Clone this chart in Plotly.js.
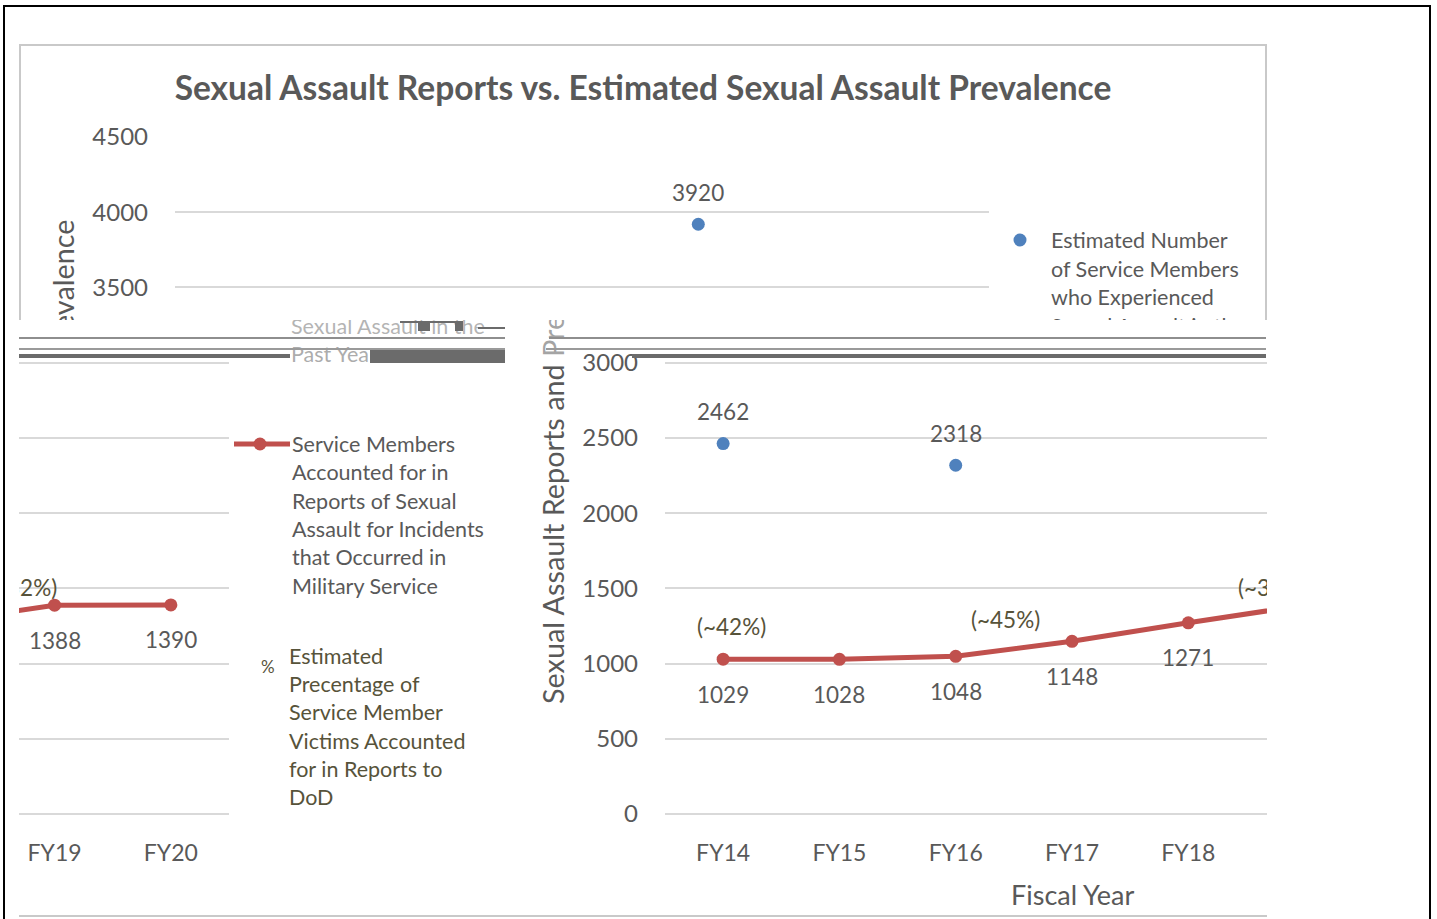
<!DOCTYPE html>
<html><head><meta charset="utf-8">
<script src="https://cdn.plot.ly/plotly-3.0.1.min.js"></script>
<style>
html,body{margin:0;padding:0;background:#fff;overflow:hidden;width:1437px;height:919px;}
.abs{position:absolute;}
.clip{position:absolute;overflow:hidden;}
.wrap{position:absolute;width:1248px;height:873px;}
.plot{position:absolute;left:0;top:0;width:1248px;height:873px;}
.box{position:absolute;left:0;top:0;width:1248px;height:873px;box-sizing:border-box;border:2px solid #c9c9c9;pointer-events:none;}
.g{position:absolute;}
</style></head><body>
<div class="abs" style="left:3px;top:5px;width:1428px;height:960px;border:2px solid #000;box-sizing:border-box"></div>

<div class="clip" style="left:0;top:0;width:1437px;height:320px">
  <div class="wrap" style="left:19px;top:44px"><div class="plot" id="c1"></div><div class="box"></div></div>
</div>
<div class="clip" style="left:538px;top:320px;width:729px;height:599px">
  <div class="wrap" style="left:-29px;top:-276px"><div class="plot" id="c2"></div><div class="box"></div></div>
</div>
<div class="clip" style="left:19px;top:320px;width:486px;height:599px">
  <div class="wrap" style="left:-760px;top:-276px"><div class="plot" id="c3"></div><div class="box"></div></div>
</div>

<!-- rendering glitch band -->
<div class="g" style="left:288px;top:318px;width:217px;height:17px;background:rgba(255,255,255,0.55)"></div>
<div class="g" style="left:288px;top:343px;width:82px;height:21px;background:rgba(255,255,255,0.5)"></div>
<div class="g" style="left:540px;top:320px;width:40px;height:42px;background:rgba(255,255,255,0.45)"></div>
<div class="g" style="left:19px;top:337px;width:486px;height:2px;background:#8e8e8e"></div>
<div class="g" style="left:549px;top:337px;width:717px;height:2px;background:#8e8e8e"></div>
<div class="g" style="left:19px;top:348px;width:486px;height:2px;background:#9a9a9a"></div>
<div class="g" style="left:546px;top:348px;width:720px;height:2px;background:#9a9a9a"></div>
<div class="g" style="left:19px;top:354px;width:271px;height:4px;background:#6b6b6b"></div>
<div class="g" style="left:370px;top:350px;width:135px;height:13px;background:#6b6b6b"></div>
<div class="g" style="left:632px;top:354px;width:634px;height:4px;background:#6b6b6b"></div>
<div class="g" style="left:400px;top:321px;width:63px;height:2px;background:#6b6b6b"></div>
<div class="g" style="left:418px;top:323px;width:12px;height:8px;background:#6b6b6b"></div>
<div class="g" style="left:455px;top:323px;width:8px;height:8px;background:#6b6b6b"></div>
<div class="g" style="left:478px;top:327px;width:27px;height:2px;background:#6b6b6b"></div>
<div class="g" style="left:505px;top:915px;width:33px;height:2px;background:#c9c9c9"></div>

<script>
// ---- data ----
const fiscalYears = ['FY14','FY15','FY16','FY17','FY18','FY19','FY20'];
const reportedValues = [1029, 1028, 1048, 1148, 1271, 1388, 1390];
const prevalenceYears = ['FY14','FY16','FY18'];
const prevalenceValues = [2462, 2318, 3920];
const pctYears = ['FY14','FY16','FY18'];
const pctLabels = ['(~42%)','(~45%)','(~32%)'];
const yTickValues = [0,500,1000,1500,2000,2500,3000,3500,4000,4500];
const chartTitle = 'Sexual Assault Reports vs. Estimated Sexual Assault Prevalence';
const yAxisTitle = 'Sexual Assault Reports and Prevalence';
const xAxisTitle = 'Fiscal Year';
const prevalenceLegend = ['Estimated Number','of Service Members','who Experienced','Sexual Assault in the','Past Year'];
const reportedLegend = ['Service Members','Accounted for in','Reports of Sexual','Assault for Incidents','that Occurred in','Military Service'];
const pctLegend = ['Estimated','Precentage of','Service Member','Victims Accounted','for in Reports to','DoD'];

// ---- styling / geometry ----
const W=1248,H=873,ML=156,MR=278,MT=93,MB=103;
const PW=W-ML-MR, PH=H-MT-MB;
const px=x=>(x-ML)/PW, py=y=>(H-MB-y)/PH;
const FONT='Lato, "Open Sans", sans-serif';
const GREY='#595959', OLIVE='#57533a', RED='#C0504D', BLUE='#4F81BD';
const pctShift = [[8,33],[50,37],[84,35]];

function buildFigure(){
  const traces = [
    {type:'scatter', mode:'lines+markers', x:fiscalYears, y:reportedValues,
     line:{color:RED, width:5}, marker:{color:RED, size:13}, showlegend:false, hoverinfo:'skip'},
    {type:'scatter', mode:'markers', x:prevalenceYears, y:prevalenceValues,
     marker:{color:BLUE, size:13}, showlegend:false, hoverinfo:'skip'}
  ];
  const ann = [];
  reportedValues.forEach((v,i)=>ann.push({x:fiscalYears[i], y:v, text:String(v), showarrow:false,
    yshift:-35, font:{family:FONT,size:22.5,color:GREY}}));
  prevalenceValues.forEach((v,i)=>ann.push({x:prevalenceYears[i], y:v, text:String(v), showarrow:false,
    yshift:32, font:{family:FONT,size:22.5,color:GREY}}));
  pctLabels.forEach((t,i)=>{
    const idx = fiscalYears.indexOf(pctYears[i]);
    ann.push({x:pctYears[i], y:reportedValues[idx], text:t, showarrow:false,
      xshift:pctShift[i][0], yshift:pctShift[i][1], font:{family:FONT,size:22.5,color:OLIVE}});
  });
  // axis titles
  ann.push({xref:'paper',yref:'paper',x:px(44),y:py(418),text:yAxisTitle,textangle:-90,showarrow:false,
    xanchor:'center',yanchor:'middle',font:{family:FONT,size:28.8,color:GREY}});
  ann.push({xref:'paper',yref:'paper',x:px(563),y:py(850),text:xAxisTitle,showarrow:false,
    xanchor:'center',yanchor:'middle',font:{family:FONT,size:27,color:GREY}});
  // legend text
  const legLine=(lines,x0,y0,dy,color)=>lines.forEach((t,i)=>ann.push({xref:'paper',yref:'paper',
    x:px(x0),y:py(y0+i*dy),text:t,showarrow:false,xanchor:'left',yanchor:'middle',
    font:{family:FONT,size:21.5,color:color}}));
  legLine(prevalenceLegend,1030,196,28.5,GREY);
  legLine(reportedLegend,1031,400,28.3,GREY);
  legLine(pctLegend,1028,612,28.2,OLIVE);
  ann.push({xref:'paper',yref:'paper',x:px(1009),y:py(622),text:'%',showarrow:false,
    xanchor:'center',yanchor:'middle',font:{family:FONT,size:17,color:OLIVE}});
  const shapes = [
    {type:'circle',xref:'paper',yref:'paper',x0:px(994.5),x1:px(1007.5),y0:py(202.5),y1:py(189.5),
     fillcolor:BLUE,line:{width:0}},
    {type:'line',xref:'paper',yref:'paper',x0:px(975),x1:px(1031),y0:py(400),y1:py(400),
     line:{color:RED,width:5}},
    {type:'circle',xref:'paper',yref:'paper',x0:px(994.5),x1:px(1007.5),y0:py(406.5),y1:py(393.5),
     fillcolor:RED,line:{width:0}}
  ];
  const layout = {
    width:W, height:H, margin:{l:ML,r:MR,t:MT,b:MB,pad:0},
    paper_bgcolor:'rgba(0,0,0,0)', plot_bgcolor:'rgba(0,0,0,0)',
    showlegend:false,
    title:{text:'<b>'+chartTitle+'</b>', xref:'container', x:0.5, xanchor:'center',
      yref:'container', y:1-44/H, yanchor:'middle', font:{family:FONT,size:33.5,color:GREY}},
    xaxis:{type:'category', categoryarray:fiscalYears, range:[-0.5,6.5], showgrid:false, showline:false,
      zeroline:false, ticks:'', ticklabelstandoff:23, tickfont:{family:FONT,size:23,color:GREY}, fixedrange:true},
    yaxis:{range:[0,4500], tickvals:yTickValues, ticktext:yTickValues.map(String), showgrid:true,
      gridcolor:'#d9d9d9', gridwidth:2, zeroline:true, zerolinecolor:'#d9d9d9', zerolinewidth:2,
      showline:false, ticks:'', ticklabelstandoff:26, tickfont:{family:FONT,size:24,color:GREY}, fixedrange:true},
    annotations:ann, shapes:shapes
  };
  return {traces, layout};
}
['c1','c2','c3'].forEach(id=>{
  const f = buildFigure();
  Plotly.newPlot(id, f.traces, f.layout, {staticPlot:true, displayModeBar:false});
});
</script>
</body></html>
